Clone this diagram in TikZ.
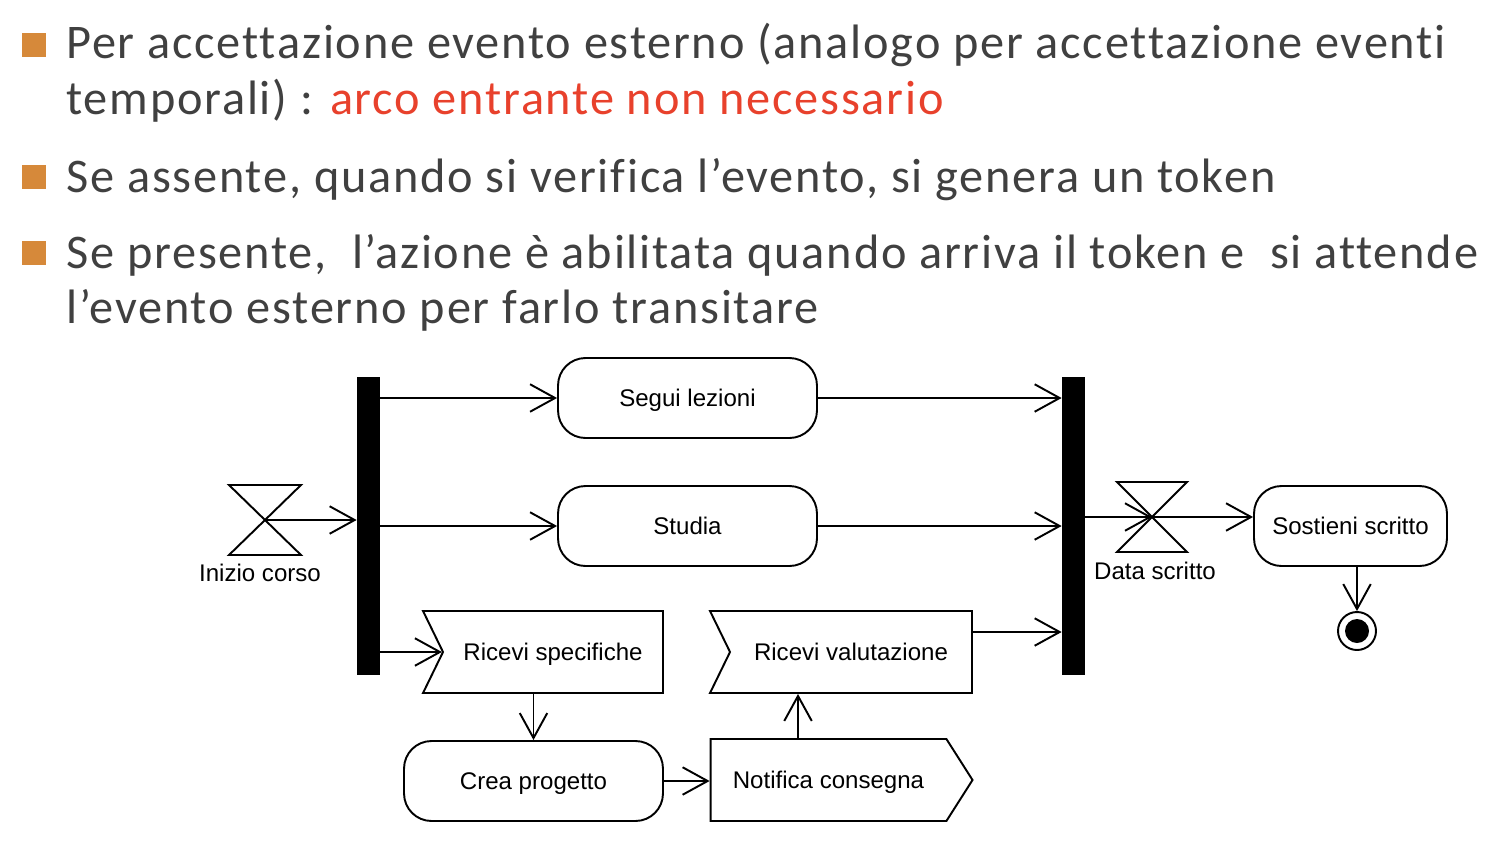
\documentclass[tikz,border=0pt]{standalone}
\usepackage{fontspec}
\setmainfont{Carlito}[Ligatures={NoCommon}, LetterSpace=3.7]
\newfontfamily\diagfont{Liberation Sans}
\usetikzlibrary{arrows.meta,shapes.symbols}
\definecolor{slidegray}{HTML}{404040}
\definecolor{bulletorange}{HTML}{D6893A}
\definecolor{slidered}{HTML}{E8412C}

\begin{document}
\begin{tikzpicture}[x=0.02cm, y=-0.02cm, >={Straight Barb[length=0.5cm,width=0.55cm]},
  line/.style={draw=black, line width=1.1pt},
  slidetext/.style={anchor=base west, inner sep=0pt, text=slidegray, font=\fontsize{27.5}{32}\selectfont},
  bullet/.style={fill=bulletorange, minimum size=0.48cm, inner sep=0pt},
  diagtext/.style={font=\diagfont\fontsize{13.7}{16}\selectfont, text height=9.8pt, text depth=0pt},
  action/.style={line, diagtext, rounded corners=0.55cm, minimum width=5.18cm, minimum height=1.6cm},
  accept/.style={line, diagtext, signal, signal to=nowhere, signal from=west, signal pointer angle=128, minimum height=1.64cm},
  send/.style={line, diagtext, signal, signal to=east, signal from=nowhere, signal pointer angle=115, minimum height=1.64cm},
  bar/.style={fill=black, minimum width=0.46cm, minimum height=5.98cm, inner sep=0pt},
  hourglass/.style={line},
  finalnode/.style={line, circle, minimum size=0.76cm, inner sep=0pt},
  flow/.style={line, ->}]
\useasboundingbox (0,0) rectangle (1502,846);

% testo della slide
\node[bullet] (b1) at (34,45) {};
\node[slidetext] (l1) at (66,58) {Per accettazione evento esterno (analogo per accettazione eventi};
\node[slidetext] (l2) at (66,114) {temporali) : \textcolor{slidered}{arco entrante non necessario}};
\node[bullet] (b2) at (34,177) {};
\node[slidetext] (l3) at (66,192) {Se assente, quando si verifica l’evento, si genera un token};
\node[bullet] (b3) at (34,253) {};
\node[slidetext] (l4) at (66,268) {Se presente,\ \ l’azione è abilitata quando arriva il token e\ \ si attende};
\node[slidetext] (l5) at (66,323) {l’evento esterno per farlo transitare};

% fork e join
\node[bar] (fork) at (368.5,526) {};
\node[bar] (join) at (1073.5,526) {};

% azioni
\node[action] (segui) at (687.5,398) {Segui lezioni};
\node[action] (studia) at (687.5,526) {Studia};
\node[accept, minimum width=4.8cm] (rspec) at (553,652) {Ricevi specifiche};
\node[action] (crea) at (533.5,781) {Crea progetto};
\node[send, minimum width=5.24cm] (notif) at (828.5,780) {Notifica consegna};
\node[accept, minimum width=5.24cm] (rval) at (851,652) {Ricevi valutazione};
\node[action, minimum width=3.86cm] (sost) at (1350.5,526) {Sostieni scritto};
\node[finalnode] (fin) at (1357,631) {};
\fill (fin.center) circle (0.24cm);

% eventi temporali
\coordinate (inizio) at (265,520);
\draw[hourglass] (inizio) ++(-36,-35) -- ++(72,0) -- ++(-72,70) -- ++(72,0) -- cycle;
\node[diagtext] (inizioLabel) at (260,573) {Inizio corso};
\coordinate (data) at (1152,517);
\draw[hourglass] (data) ++(-35,-35) -- ++(70,0) -- ++(-70,70) -- ++(70,0) -- cycle;
\node[diagtext] (dataLabel) at (1155,571) {Data scritto};

% archi
\draw[flow] (inizio) -- (inizio -| fork.west);
\draw[flow] (fork.east |- segui) -- (segui.west);
\draw[flow] (fork.east |- studia) -- (studia.west);
\draw[flow] (fork.east |- rspec) -- (rspec.west);
\draw[flow] (segui.east) -- (segui.east -| join.west);
\draw[flow] (studia.east) -- (studia.east -| join.west);
\draw[flow] ([yshift=0.4cm]rval.east) -- ([yshift=0.4cm]rval.east -| join.west);
\draw[flow] (crea.north |- rspec.south) -- (crea.north);
\draw[flow] (crea.east) -- (crea.east -| notif.west);
\draw[flow] ([xshift=-0.61cm]notif.north) -- ([xshift=-0.61cm]notif.north |- rval.south);
\draw[flow] (join.east |- data) -- (data);
\draw[flow] (data) -- (data -| sost.west);
\draw[flow] (sost.south -| fin) -- (fin.north);
\end{tikzpicture}
\end{document}
